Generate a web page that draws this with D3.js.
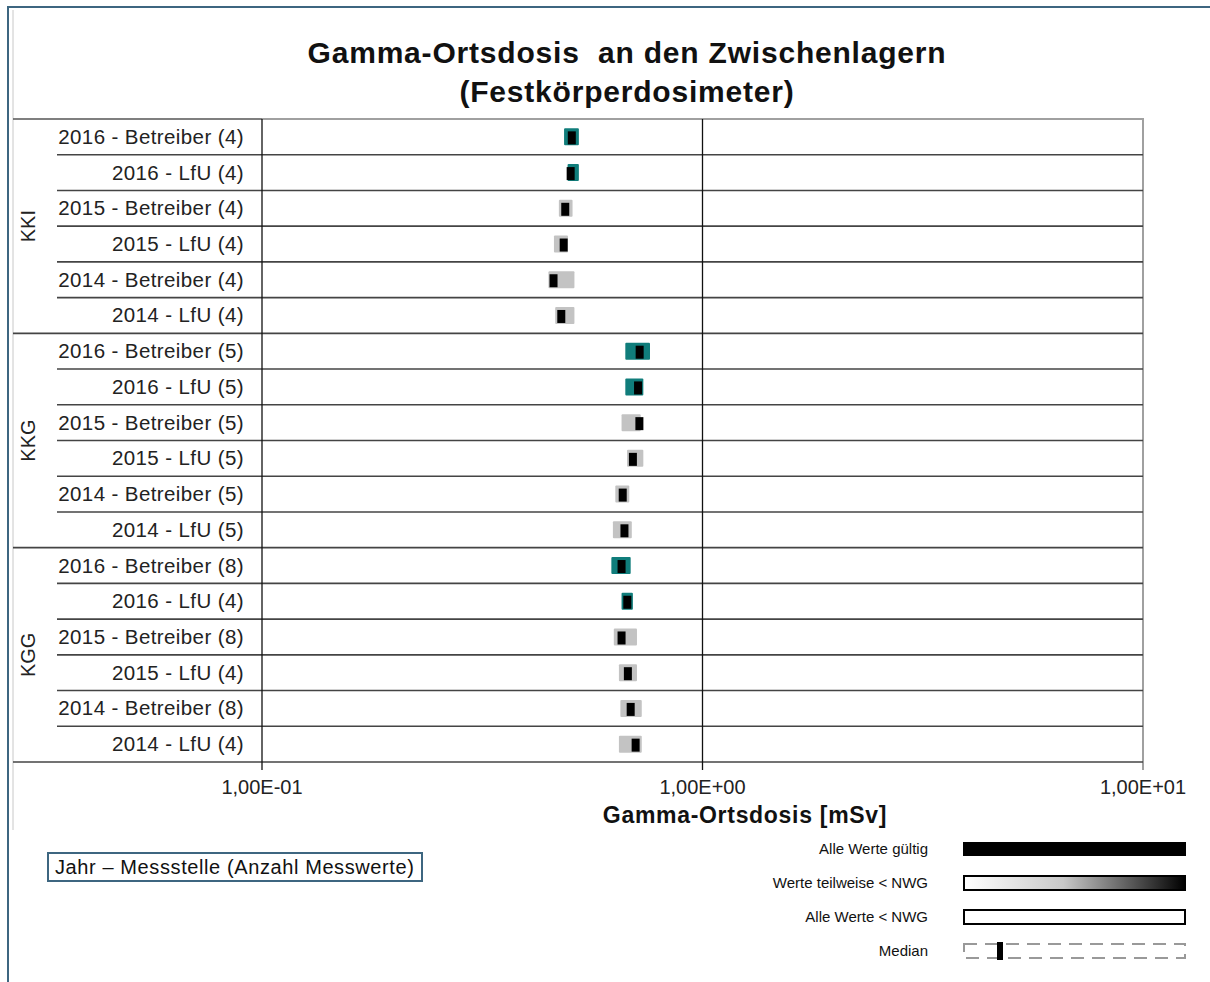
<!DOCTYPE html>
<html>
<head>
<meta charset="utf-8">
<script src="https://cdn.jsdelivr.net/npm/d3@7"></script>
<style>
  html, body { margin: 0; padding: 0; background: #fff; }
  svg { display: block; font-family: "Liberation Sans", Arial, sans-serif; }
</style>
</head>
<body>
<svg id="chart" width="1210" height="982"></svg>
<script>
// Zwischenlager and rows (Jahr - Messstelle (Anzahl Messwerte))
const sites = ["KKI", "KKG", "KGG"];
const rowLabels = [
  "2016 - Betreiber (4)", "2016 - LfU (4)", "2015 - Betreiber (4)", "2015 - LfU (4)", "2014 - Betreiber (4)", "2014 - LfU (4)",
  "2016 - Betreiber (5)", "2016 - LfU (5)", "2015 - Betreiber (5)", "2015 - LfU (5)", "2014 - Betreiber (5)", "2014 - LfU (5)",
  "2016 - Betreiber (8)", "2016 - LfU (4)", "2015 - Betreiber (8)", "2015 - LfU (4)", "2014 - Betreiber (8)", "2014 - LfU (4)"
];
const rowSite = ["KKI","KKI","KKI","KKI","KKI","KKI","KKG","KKG","KKG","KKG","KKG","KKG","KGG","KGG","KGG","KGG","KGG","KGG"];
const rowYear = [2016,2016,2015,2015,2014,2014,2016,2016,2015,2015,2014,2014,2016,2016,2015,2015,2014,2014];

// Gamma-Ortsdosis in mSv: Minimum, Maximum, Median
const minVals = [0.485, 0.494, 0.472, 0.460, 0.447, 0.463, 0.668, 0.668, 0.655, 0.674, 0.634, 0.626, 0.621, 0.655, 0.629, 0.646, 0.651, 0.646];
const maxVals = [0.524, 0.524, 0.507, 0.495, 0.512, 0.512, 0.760, 0.734, 0.724, 0.734, 0.682, 0.691, 0.687, 0.695, 0.710, 0.710, 0.728, 0.728];
const medVals = [0.505, 0.502, 0.488, 0.484, 0.459, 0.478, 0.720, 0.714, 0.719, 0.695, 0.659, 0.665, 0.655, 0.675, 0.655, 0.677, 0.687, 0.705];

const xTicks = [0.1, 1, 10];
const tickLabels = ["1,00E-01", "1,00E+00", "1,00E+01"];
const legendItems = ["Alle Werte gültig", "Werte teilweise < NWG", "Alle Werte < NWG", "Median"];

const yearColor = { 2016: "#107d7b", 2015: "#c3c3c3", 2014: "#c3c3c3" };
const frameBlue = "#3d6680";

const svg = d3.select("#chart");

const plot = { left: 262, right: 1143, top: 119, bottom: 762 };
const labelLeft = 13, rowLineLeft = 57;

const x = d3.scaleLog().domain([0.1, 10]).range([plot.left, plot.right]);
const y = d3.scaleBand().domain(d3.range(rowLabels.length)).range([plot.top, plot.bottom]);

// outer frame
svg.append("path")
  .attr("d", `M8,1000 V7 H1220`)
  .attr("fill", "none").attr("stroke", frameBlue).attr("stroke-width", 2);
svg.append("line")
  .attr("x1", labelLeft).attr("x2", labelLeft).attr("y1", 10).attr("y2", 830)
  .attr("stroke", "#c8c8c8").attr("stroke-width", 1);

// title
const title = svg.append("text")
  .attr("text-anchor", "middle").attr("font-weight", "bold").attr("font-size", 30)
  .attr("letter-spacing", 0.8).attr("fill", "#111");
title.append("tspan").attr("x", 627).attr("y", 63).attr("xml:space", "preserve").text("Gamma-Ortsdosis  an den Zwischenlagern");
title.append("tspan").attr("x", 627).attr("y", 102).text("(Festkörperdosimeter)");

// plot border (top/right light grey)
svg.append("path")
  .attr("d", `M${plot.left},${plot.top} H${plot.right} V${plot.bottom + 8}`)
  .attr("fill", "none").attr("stroke", "#a0a0a0").attr("stroke-width", 2);
svg.append("line")
  .attr("x1", labelLeft).attr("x2", plot.left).attr("y1", plot.top).attr("y2", plot.top)
  .attr("stroke", "#555").attr("stroke-width", 1.5);

// row separators
const rowLines = d3.range(1, rowLabels.length + 1);
svg.append("g").selectAll("line")
  .data(rowLines)
  .join("line")
  .attr("x1", i => (i % 6 === 0 ? labelLeft : rowLineLeft))
  .attr("x2", plot.right)
  .attr("y1", i => y(i - 1) + y.bandwidth())
  .attr("y2", i => y(i - 1) + y.bandwidth())
  .attr("stroke", "#444").attr("stroke-width", 1.6);

// vertical axis lines + ticks
svg.append("g").selectAll("line")
  .data(xTicks.slice(0, 2))
  .join("line")
  .attr("x1", d => x(d)).attr("x2", d => x(d))
  .attr("y1", plot.top).attr("y2", plot.bottom + 8)
  .attr("stroke", "#111").attr("stroke-width", 1.3);

// tick labels
svg.append("g").selectAll("text")
  .data(xTicks)
  .join("text")
  .attr("x", d => x(d)).attr("y", 794)
  .attr("text-anchor", "middle").attr("font-size", 20).attr("fill", "#222")
  .text((d, i) => tickLabels[i]);

svg.append("text")
  .attr("x", 745).attr("y", 823)
  .attr("text-anchor", "middle").attr("font-weight", "bold").attr("font-size", 23)
  .attr("letter-spacing", 0.7).attr("fill", "#111")
  .text("Gamma-Ortsdosis [mSv]");

// row labels
svg.append("g").selectAll("text")
  .data(rowLabels)
  .join("text")
  .attr("x", 244)
  .attr("y", (d, i) => y(i) + y.bandwidth() / 2 + 7)
  .attr("text-anchor", "end").attr("font-size", 20.5).attr("letter-spacing", 0.4).attr("fill", "#222")
  .text(d => d);

// site labels (rotated)
svg.append("g").selectAll("text")
  .data(sites)
  .join("text")
  .attr("transform", d => {
    const idx = rowSite.map((s, i) => s === d ? i : -1).filter(i => i >= 0);
    const cy = (y(idx[0]) + y(idx[idx.length - 1]) + y.bandwidth()) / 2;
    return `translate(35,${cy}) rotate(-90)`;
  })
  .attr("text-anchor", "middle").attr("font-size", 20).attr("fill", "#222")
  .text(d => d);

// range boxes
const boxH = 17, medW = 8, medH = 13;
svg.append("g").selectAll("rect")
  .data(rowLabels)
  .join("rect")
  .attr("x", (d, i) => x(minVals[i]))
  .attr("width", (d, i) => x(maxVals[i]) - x(minVals[i]))
  .attr("y", (d, i) => y(i) + y.bandwidth() / 2 - boxH / 2)
  .attr("height", boxH)
  .attr("rx", 1)
  .attr("fill", (d, i) => yearColor[rowYear[i]]);

// median marks
svg.append("g").selectAll("rect")
  .data(rowLabels)
  .join("rect")
  .attr("x", (d, i) => x(medVals[i]) - medW / 2)
  .attr("width", medW)
  .attr("y", (d, i) => y(i) + y.bandwidth() / 2 - medH / 2 + 1)
  .attr("height", medH)
  .attr("fill", "#000");

// bottom-left legend box
svg.append("rect")
  .attr("x", 48).attr("y", 853).attr("width", 374).attr("height", 28)
  .attr("fill", "#fff").attr("stroke", frameBlue).attr("stroke-width", 2);
svg.append("text")
  .attr("x", 55).attr("y", 874).attr("font-size", 20).attr("letter-spacing", 0.6).attr("fill", "#111")
  .text("Jahr – Messstelle (Anzahl Messwerte)");

// right legend
const defs = svg.append("defs");
const grad = defs.append("linearGradient").attr("id", "partGrad");
grad.append("stop").attr("offset", "0%").attr("stop-color", "#fff");
grad.append("stop").attr("offset", "45%").attr("stop-color", "#c8c8c8");
grad.append("stop").attr("offset", "100%").attr("stop-color", "#000");

const legX = 963, legW = 223, legH = 14;
const legY = d3.scalePoint().domain(legendItems).range([849, 951]);

svg.append("g").selectAll("text")
  .data(legendItems)
  .join("text")
  .attr("x", 928).attr("y", d => legY(d) + 5)
  .attr("text-anchor", "end").attr("font-size", 15).attr("fill", "#111")
  .text(d => d);

const lg = svg.append("g");
lg.append("rect").attr("x", legX).attr("y", legY(legendItems[0]) - legH / 2).attr("width", legW).attr("height", legH).attr("fill", "#000");
lg.append("rect").attr("x", legX + 1).attr("y", legY(legendItems[1]) - legH / 2).attr("width", legW - 2).attr("height", legH)
  .attr("fill", "url(#partGrad)").attr("stroke", "#000").attr("stroke-width", 2);
lg.append("rect").attr("x", legX + 1).attr("y", legY(legendItems[2]) - legH / 2).attr("width", legW - 2).attr("height", legH)
  .attr("fill", "#fff").attr("stroke", "#000").attr("stroke-width", 2);
lg.append("rect").attr("x", legX + 1).attr("y", legY(legendItems[3]) - legH / 2).attr("width", legW - 2).attr("height", legH)
  .attr("fill", "none").attr("stroke", "#999").attr("stroke-width", 2).attr("stroke-dasharray", "13,8");
lg.append("rect").attr("x", 997).attr("y", legY(legendItems[3]) - 9).attr("width", 6).attr("height", 18).attr("fill", "#000");
</script>
</body>
</html>
